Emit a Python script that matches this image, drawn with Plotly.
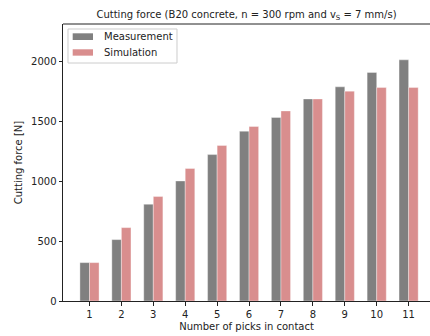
import plotly.graph_objects as go

picks = [1, 2, 3, 4, 5, 6, 7, 8, 9, 10, 11]
measurement = [320, 512, 807, 1001, 1221, 1416, 1530, 1685, 1786, 1906, 2011]
simulation = [320, 612, 871, 1105, 1297, 1455, 1585, 1685, 1750, 1780, 1780]
y_ticks = [0, 500, 1000, 1500, 2000]

FONT = "DejaVu Sans"
TEXT = "#222222"
bar_w = 0.3
series = [("Measurement", measurement, "#808080", -bar_w / 2),
          ("Simulation", simulation, "#d98e8e", bar_w / 2)]

fig = go.Figure()
for name, vals, color, off in series:
    fig.add_trace(go.Bar(
        x=[p + off for p in picks], y=vals, width=bar_w, name=name,
        marker=dict(color=color, line=dict(color="rgba(255,255,255,0.6)", width=0.6)),
        showlegend=False,
    ))

fig.update_layout(
    width=430, height=336,
    margin=dict(l=63, r=0, t=24, b=35),
    paper_bgcolor="white", plot_bgcolor="white",
    barmode="overlay",
    font=dict(family=FONT, size=10, color=TEXT),
    title=dict(
        text="Cutting force (B20 concrete, n = 300 rpm and v<sub>S</sub> = 7 mm/s)",
        x=0.5, xref="paper", xanchor="center", y=0.958, yanchor="middle",
        font=dict(family=FONT, size=10, color=TEXT),
    ),
    showlegend=False,
    xaxis=dict(
        range=[0.17, 11.67], tickmode="array", tickvals=picks,
        ticktext=[str(p) for p in picks],
        ticks="outside", ticklen=3.5, tickcolor=TEXT,
        showline=True, linecolor=TEXT, linewidth=1, mirror=False,
        showgrid=False, zeroline=False,
        title=dict(text="Number of picks in contact", font=dict(size=10), standoff=4),
    ),
    yaxis=dict(
        range=[0, 2310], tickmode="array", tickvals=y_ticks,
        ticks="outside", ticklen=3.5, tickcolor=TEXT,
        showline=True, linecolor=TEXT, linewidth=1, mirror=False,
        showgrid=False, zeroline=False,
        title=dict(text="Cutting force [N]", font=dict(size=10), standoff=6),
    ),
)

# top spine
fig.add_shape(type="line", xref="paper", yref="paper", x0=0, x1=1, y0=1, y1=1,
              line=dict(color=TEXT, width=1))

# legend box (paper coordinates, upper left of the axes)
fig.add_shape(type="rect", xref="paper", yref="paper",
              x0=0.0136, x1=0.3106, y0=0.8592, y1=0.982,
              line=dict(color="#cccccc", width=1), fillcolor="rgba(255,255,255,0.8)")
rows = [(0.9543, 0.0121), (0.8972, 0.0115)]
for (name, _, color, _), (yc, half) in zip(series, rows):
    fig.add_shape(type="rect", xref="paper", yref="paper",
                  x0=0.0264, x1=0.0817, y0=yc - half, y1=yc + half,
                  line=dict(width=0), fillcolor=color)
    fig.add_annotation(xref="paper", yref="paper", x=0.1063, y=yc,
                       xanchor="left", yanchor="middle", showarrow=False,
                       text=name, font=dict(family=FONT, size=10, color=TEXT))

fig.write_html("out.html")
